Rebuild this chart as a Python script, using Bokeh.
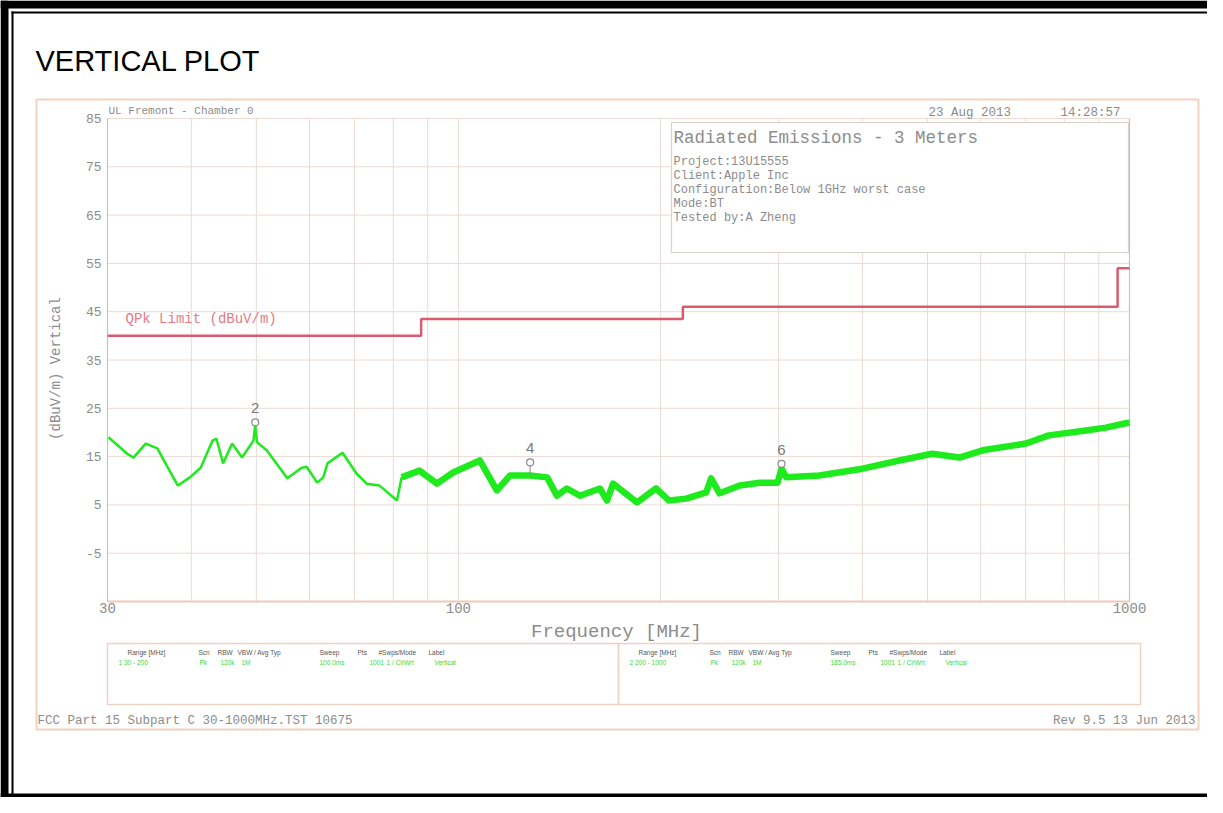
import numpy as np
from bokeh.plotting import figure
from bokeh.models import Range1d, LogScale, LinearScale
from bokeh.core.properties import value
from bokeh.embed import file_html
from bokeh.resources import INLINE

# ------------------------------------------------------------------ data
freq_mhz = [30.1, 32.1, 32.8, 34.2, 35.6, 36.9, 38.2, 39.8, 41.3, 43.0, 43.6,
            44.6, 46.0, 47.6, 49.5, 49.8, 50.1, 51.8, 55.6, 58.4, 59.4, 61.6,
            62.9, 63.8, 67.2, 70.5, 73.0, 76.3, 81.0, 82.3, 87.5, 92.9, 98.2,
            107.6, 114.1, 119.4, 127.9, 135.6, 140.2, 145.1, 151.8, 162.5,
            166.5, 170.0, 184.6, 197.0, 206.0, 218.5, 234.0, 238.0, 245.0,
            262.6, 281.3, 299.0, 303.0, 308.0, 345.0, 400.0, 454.0, 508.0,
            558.0, 604.0, 701.0, 758.0, 861.0, 922.0, 987.0, 1000.0]
level_dbuv = [19.0, 15.6, 14.8, 17.7, 16.7, 12.7, 9.0, 10.7, 12.7, 18.3, 18.7,
              13.6, 17.7, 14.8, 18.3, 21.5, 18.0, 16.3, 10.5, 12.7, 12.9, 9.6,
              10.7, 13.6, 15.8, 11.5, 9.4, 9.0, 5.9, 10.7, 12.1, 9.4, 11.7,
              14.2, 8.0, 11.1, 11.1, 10.7, 6.9, 8.4, 6.9, 8.4,
              5.9, 9.4, 5.5, 8.4, 5.9, 6.3, 7.6, 10.5, 7.4,
              9.0, 9.6, 9.6, 12.5, 10.7, 11.1, 12.5, 14.2, 15.6,
              14.8, 16.3, 17.7, 19.4, 20.4, 21.0, 21.9, 22.0]

limit_edges_mhz = [30, 88, 216, 960, 1000]
limit_levels = [40, 43.5, 46, 54, 54]

marker_ids = ["2", "4", "6"]
marker_f = [49.8, 127.9, 303.0]
marker_db = [22.1, 13.8, 13.5]

y_ticks = [85, 75, 65, 55, 45, 35, 25, 15, 5, -5]
x_tick_vals = [30, 100, 1000]
x_tick_labels = ["30", "100", "1000"]
grid_freqs = [40, 50, 60, 70, 80, 90, 100, 200, 300, 400, 500, 600, 700, 800, 900]

info_title = "Radiated Emissions - 3 Meters"
info_lines = ["Project:13U15555", "Client:Apple Inc",
              "Configuration:Below 1GHz worst case", "Mode:BT",
              "Tested by:A Zheng"]

table_headers = ["Range [MHz]", "Scn", "RBW", "VBW / Avg Typ", "Sweep", "Pts",
                 "#Swps/Mode", "Label"]
table_row_1 = ["1 30 - 200", "Pk", "120k", "1M", "100.0ms", "1001",
               "1 / ClrWrt", "Vertical"]
table_row_2 = ["2 200 - 1000", "Pk", "120k", "1M", "185.0ms", "1001",
               "1 / ClrWrt", "Vertical"]

# ------------------------------------------------------------------ layout / style
W, H = 1207, 797
X0, X1 = 107, 1129        # pixel of 30 MHz / 1000 MHz
Y_TOP, Y_BOT = 118, 601   # pixel of 85 / -15 dB

GRID = "#eadcd5"
TXT = "#8c8c8c"
GREEN = "#1eea1e"
RED = "#d95c6e"
MONO = value("Liberation Mono")
SANS = value("Liberation Sans")

p = figure(width=W, height=H, x_range=Range1d(0, W), y_range=Range1d(H, 0),
           x_axis_location=None, y_axis_location=None, min_border=0,
           toolbar_location=None, output_backend="svg", title=None,
           outline_line_color=None, background_fill_color="white",
           border_fill_color="white")
p.grid.visible = False

dpx = (X1 - X0) / np.log10(1000 / 30)
fa = 30 * 10 ** (-X0 / dpx)
fb = 1000 * 10 ** ((W - X1) / dpx)
pdb = (Y_BOT - Y_TOP) / 100.0
ya = -15 - (H - Y_BOT) / pdb
yb = 85 + Y_TOP / pdb
p.extra_x_ranges = {"f": Range1d(fa, fb)}
p.extra_x_scales = {"f": LogScale()}
p.extra_y_ranges = {"db": Range1d(ya, yb)}
p.extra_y_scales = {"db": LinearScale()}
C = dict(x_range_name="f", y_range_name="db")

# page frame (black) ------------------------------------------------
p.quad(left=[0, 0, 11, 0], right=[8, W, 13, W], top=[0, 0, 11, H - 4],
       bottom=[H, 8, H, H], fill_color="black", line_color=None)
p.quad(left=[11], right=[W], top=[11], bottom=[13], fill_color="black",
       line_color=None)

# title
p.text(x=[35], y=[60], text=["VERTICAL PLOT"], text_font=SANS,
       text_font_size="29px", text_color="black", text_baseline="alphabetic")

# scanned image border (light orange)
p.quad(left=[36], right=[1198], top=[99], bottom=[729],
       fill_color=None, line_color="#f1d2bd", line_width=2)

# grid --------------------------------------------------------------
p.segment(x0=grid_freqs, x1=grid_freqs, y0=-15, y1=85, line_color=GRID,
          line_width=1, **C)
p.segment(x0=30, x1=1000, y0=y_ticks, y1=y_ticks, line_color=GRID,
          line_width=1, **C)
p.segment(x0=[30, 1000], x1=[30, 1000], y0=-15, y1=85, line_color="#c9c2be",
          line_width=1.2, **C)
p.segment(x0=[30], x1=[1000], y0=[-15], y1=[-15], line_color="#efc9b2",
          line_width=2, **C)

# info box ----------------------------------------------------------
p.quad(left=[671], right=[1128], top=[122], bottom=[252],
       fill_color="white", line_color="#dcd2cc", line_width=1.2)
p.text(x=[673], y=[137], text=[info_title], text_font=MONO,
       text_font_size="17.5px", text_color=TXT, text_baseline="middle")
p.text(x=[673] * len(info_lines),
       y=[161 + 14 * i for i in range(len(info_lines))],
       text=info_lines, text_font=MONO, text_font_size="12px",
       text_color=TXT, text_baseline="middle")

# header texts
p.text(x=[108], y=[110], text=["UL Fremont - Chamber 0"], text_font=MONO,
       text_font_size="11px", text_color=TXT, text_baseline="middle")
p.text(x=[928, 1060], y=[112, 112], text=["23 Aug 2013", "14:28:57"],
       text_font=MONO, text_font_size="12.5px", text_color=TXT,
       text_baseline="middle")

# axes labels -------------------------------------------------------
p.text(x=30, y=y_ticks, text=[str(v) for v in y_ticks], x_offset=-6,
       text_font=MONO, text_font_size="13px", text_color=TXT,
       text_align="right", text_baseline="middle", **C)
p.text(x=x_tick_vals, y=-15, text=x_tick_labels, y_offset=1, text_font=MONO,
       text_font_size="14px", text_color=TXT, text_align="center",
       text_baseline="top", **C)
p.text(x=[616], y=[631], text=["Frequency [MHz]"], text_font=MONO,
       text_font_size="19px", text_color=TXT, text_align="center",
       text_baseline="middle")
p.text(x=[55], y=[368], text=["(dBuV/m) Vertical"], angle=np.pi / 2,
       text_font=MONO, text_font_size="14px", text_color=TXT,
       text_align="center", text_baseline="middle")

# limit -------------------------------------------------------------
p.step(x=limit_edges_mhz, y=limit_levels, mode="after", line_color=RED,
       line_width=2.5, **C)
p.text(x=[125], y=[318], text=["QPk Limit (dBuV/m)"], text_font=MONO,
       text_font_size="14px", text_color="#e57a86", text_baseline="middle")

# trace -------------------------------------------------------------
split = next(i for i, f in enumerate(freq_mhz) if f >= 82)
p.line(freq_mhz[:split + 1], level_dbuv[:split + 1], line_color=GREEN,
       line_width=2.5, **C)
p.line(freq_mhz[split:], level_dbuv[split:], line_color=GREEN,
       line_width=6.5, line_join="round", **C)

# markers
p.segment(x0=marker_f, x1=marker_f, y0=marker_db,
          y1=[level_dbuv[freq_mhz.index(min(freq_mhz, key=lambda f: abs(f - m)))]
              for m in marker_f],
          line_color="#8a8a8a", line_width=1, **C)
p.scatter(marker_f, marker_db, marker="circle", size=7, fill_color="white",
          line_color="#8a8a8a", line_width=1.2, **C)
p.text(x=marker_f, y=marker_db, text=marker_ids, y_offset=-14,
       text_font=SANS, text_font_size="15px", text_color="#7a7a7a",
       text_align="center", text_baseline="middle", **C)

# bottom tables -----------------------------------------------------
boxes = [(107, 618, table_row_1), (618, 1140, table_row_2)]
hdr_off = [20, 91, 110, 130, 212, 250, 271, 321]
val_off = [11, 92, 113, 134, 212, 262, 279, 327]
for left, right, row in boxes:
    p.quad(left=[left], right=[right], top=[643], bottom=[704],
           fill_color=None, line_color="#eed3c3", line_width=1.5)
    p.text(x=[left + o for o in hdr_off], y=[652] * len(table_headers),
           text=table_headers, text_font=SANS, text_font_size="6.5px",
           text_color="#555555", text_baseline="middle")
    p.text(x=[left + o for o in val_off], y=[662] * len(row), text=row,
           text_font=SANS, text_font_size="6.5px", text_color="#3ed83e",
           text_baseline="middle")

# footer
p.text(x=[37], y=[720], text=["FCC Part 15 Subpart C 30-1000MHz.TST 10675"],
       text_font=MONO, text_font_size="12.5px", text_color=TXT,
       text_baseline="middle")
p.text(x=[1195], y=[720], text=["Rev 9.5 13 Jun 2013"], text_font=MONO,
       text_font_size="12.5px", text_color=TXT, text_align="right",
       text_baseline="middle")

open("out.html", "w").write(file_html(p, INLINE))
